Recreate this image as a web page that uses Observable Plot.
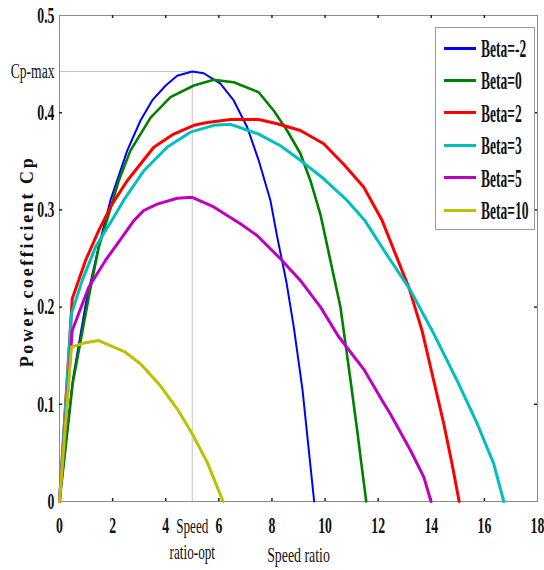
<!DOCTYPE html>
<html><head><meta charset="utf-8">
<script src="https://cdn.jsdelivr.net/npm/d3@7"></script>
<script src="https://cdn.jsdelivr.net/npm/@observablehq/plot@0.6"></script>
<style>
body{margin:0;background:#fff;}
#wrap{position:relative;width:544px;height:570px;}
#legend{position:absolute;left:435px;top:27px;width:100px;height:203px;border:1px solid #999;background:#fff;box-sizing:border-box;}
.sw{position:absolute;left:8px;width:32px;height:3px;}
.lb{position:absolute;left:45px;height:30px;font:bold 26px "Liberation Serif";line-height:30px;transform:scaleX(0.52);transform-origin:left center;white-space:nowrap;color:#111;}
</style></head><body><div id="wrap"></div>
<script>
const seriesNames = ["Beta=-2", "Beta=0", "Beta=2", "Beta=3", "Beta=5", "Beta=10"];
const seriesColors = ["#0000ff", "#008000", "#ff0000", "#00bfbf", "#bf00bf", "#bfbf00"];
const seriesWidths = [2, 2.6, 3, 3, 3, 3];

const xBetaM2 = [0, 0.5, 1.0, 1.5, 1.92, 2.55, 3.05, 3.49, 4.0, 4.43, 5.0, 5.43, 6.06, 6.56, 7.07, 7.5, 7.94, 8.2, 8.55, 8.82, 9.15, 9.59];
const yBetaM2 = [0, 0.125, 0.205, 0.265, 0.31, 0.361, 0.392, 0.4126, 0.428, 0.438, 0.4424, 0.4406, 0.43, 0.4126, 0.385, 0.351, 0.31, 0.272, 0.225, 0.18, 0.115, 0];

const xBeta0 = [0, 0.5, 1.1, 1.48, 1.86, 2.23, 2.67, 3.43, 4.18, 5.06, 5.81, 6.56, 7.5, 8.07, 8.57, 9.07, 9.45, 9.83, 10.2, 10.58, 10.7, 10.96, 11.21, 11.4, 11.55];
const yBeta0 = [0, 0.122, 0.21, 0.262, 0.296, 0.33, 0.361, 0.395, 0.416, 0.428, 0.4338, 0.4314, 0.421, 0.402, 0.3817, 0.358, 0.33, 0.295, 0.248, 0.2, 0.176, 0.1245, 0.073, 0.032, 0];

const xBeta2 = [0, 0.48, 0.98, 1.48, 1.98, 2.55, 3.55, 4.3, 5.06, 5.56, 6.44, 7.5, 8.2, 9.07, 9.95, 10.7, 11.46, 12.15, 13.17, 13.65, 14.09, 14.47, 14.78, 15.05];
const yBeta2 = [0, 0.2085, 0.248, 0.279, 0.306, 0.33, 0.3645, 0.378, 0.387, 0.39, 0.393, 0.393, 0.3886, 0.3817, 0.368, 0.347, 0.3234, 0.289, 0.219, 0.176, 0.1245, 0.08, 0.039, 0];

const xBeta3 = [0, 0.45, 0.85, 1.36, 1.98, 2.42, 3.17, 4.05, 4.93, 5.81, 6.44, 7.5, 8.32, 9.07, 9.95, 10.83, 11.5, 12.34, 13.2, 14.03, 14.97, 15.73, 16.35, 16.73];
const yBeta3 = [0, 0.193, 0.227, 0.262, 0.2896, 0.31, 0.34, 0.3645, 0.38, 0.387, 0.388, 0.378, 0.366, 0.351, 0.332, 0.3097, 0.289, 0.2534, 0.218, 0.176, 0.1245, 0.08, 0.039, 0];

const xBeta5 = [0, 0.48, 1.1, 1.73, 2.36, 2.8, 3.17, 3.68, 4.43, 5.0, 5.81, 6.81, 7.44, 8.32, 9.07, 9.83, 10.5, 11.46, 12.15, 12.46, 13.22, 13.72, 13.99];
const yBeta5 = [0, 0.176, 0.2205, 0.248, 0.272, 0.289, 0.2994, 0.306, 0.312, 0.313, 0.303, 0.2857, 0.2737, 0.2497, 0.2274, 0.2, 0.17, 0.136, 0.104, 0.09, 0.0525, 0.025, 0];

const xBeta10 = [0, 0.45, 0.92, 1.48, 2.48, 3.05, 3.8, 4.43, 5.0, 5.56, 6.16];
const yBeta10 = [0, 0.159, 0.163, 0.1656, 0.1536, 0.1416, 0.119, 0.0954, 0.0696, 0.0405, 0];

const xTicks = [0, 2, 4, 6, 8, 10, 12, 14, 16, 18];
const yTicks = [0, 0.1, 0.2, 0.3, 0.4, 0.5];
const cpMax = [0.4424];
const speedRatioOpt = [5];

const xs = [xBetaM2, xBeta0, xBeta2, xBeta3, xBeta5, xBeta10];
const ys = [yBetaM2, yBeta0, yBeta2, yBeta3, yBeta5, yBeta10];
const seriesData = xs.map((xa, i) => xa.map((x, j) => ({series: seriesNames[i], x, y: ys[i][j]})));

const W = 544, H = 570, mL = 59, mR = 7, mT = 15, mB = 69;
const pw = W - mL - mR, ph = H - mT - mB;
const font = "Liberation Serif";

const plot = Plot.plot({
  width: W, height: H,
  marginLeft: mL, marginRight: mR, marginTop: mT, marginBottom: mB,
  style: {fontFamily: font, background: "#fff", overflow: "visible"},
  x: {domain: [0, 18]},
  y: {domain: [0, 0.5]},
  marks: [
    Plot.ruleY(cpMax, {y: d => d, x1: 0, x2: speedRatioOpt[0], stroke: "#c4c4c4", strokeWidth: 1}),
    Plot.ruleX(speedRatioOpt, {x: d => d, y1: 0, y2: cpMax[0], stroke: "#c4c4c4", strokeWidth: 1}),
    Plot.frame({stroke: "#8a8a8a", strokeWidth: 1}),
    Plot.tickX(xTicks.slice(1, -1), {x: d => d, insetTop: ph - 3, stroke: "#222", strokeWidth: 1.5}),
    Plot.tickX(xTicks.slice(1, -1), {x: d => d, insetBottom: ph - 3, stroke: "#222", strokeWidth: 1.5}),
    Plot.tickY(yTicks.slice(1, -1), {y: d => d, insetRight: pw - 3, stroke: "#222", strokeWidth: 1.5}),
    Plot.tickY(yTicks.slice(1, -1), {y: d => d, insetLeft: pw - 3, stroke: "#222", strokeWidth: 1.5}),
    Plot.axisX({ticks: xTicks, tickSize: 0, tickPadding: 15, tickFormat: d => String(d), fontSize: 23, fontWeight: "bold", fontFamily: font, fill: "#111",
      label: "Speed ratio", labelAnchor: "center", labelOffset: 60, labelArrow: "none"}),
    Plot.axisY({ticks: yTicks, tickSize: 0, tickPadding: 5, tickFormat: d => String(d), fontSize: 23, fontWeight: "bold", fontFamily: font, fill: "#111", label: null}),
    ...seriesData.map((rows, i) => Plot.line(rows, {x: "x", y: "y", stroke: seriesColors[i], strokeWidth: seriesWidths[i], strokeLinejoin: "round", strokeLinecap: "round"})),
    Plot.text(cpMax, {y: d => d, text: () => "Cp-max", frameAnchor: "left", dx: -5, textAnchor: "end", fontSize: 20, fontFamily: font, fill: "#111"}),
    Plot.text(speedRatioOpt, {x: d => d, text: () => "Speed\nratio-opt", frameAnchor: "bottom", lineAnchor: "top", dy: 14, lineHeight: 1.15, fontSize: 22, fontFamily: font, fill: "#111"}),
    Plot.text(["Power coefficient Cp"], {text: d => d, frameAnchor: "left", textAnchor: "middle", rotate: -90, dx: -32, dy: 3, fontSize: 18, fontWeight: "bold", fontFamily: font, fill: "#111"})
  ]
});

// horizontally condense text (the reference uses a narrow Times-like face)
d3.select(plot).selectAll("text").each(function() {
  const t = this.textContent;
  let s = 0.6;
  if (t === "Power coefficient Cp") {
    this.style.letterSpacing = "2.6px";
    return;
  }
  if (t === "Cp-max") s = 0.68;
  else if (t.startsWith("Speed ratio")) {
    s = 0.63;
    this.setAttribute("font-size", 22);
    this.setAttribute("font-weight", "normal");
    this.setAttribute("fill", "#111");
  }
  const tr = this.getAttribute("transform") || "";
  this.setAttribute("transform", tr + ` scale(${s},1)`);
});

const wrap = document.getElementById("wrap");
wrap.appendChild(plot);

const legend = document.createElement("div");
legend.id = "legend";
seriesNames.forEach((name, i) => {
  const cy = 20 + i * 32.4;
  const sw = document.createElement("div");
  sw.className = "sw";
  sw.style.top = (cy - 1.5) + "px";
  sw.style.background = seriesColors[i];
  legend.appendChild(sw);
  const lb = document.createElement("div");
  lb.className = "lb";
  lb.style.top = (cy - 15 + 1) + "px";
  lb.textContent = name;
  legend.appendChild(lb);
});
wrap.appendChild(legend);
</script></body></html>
